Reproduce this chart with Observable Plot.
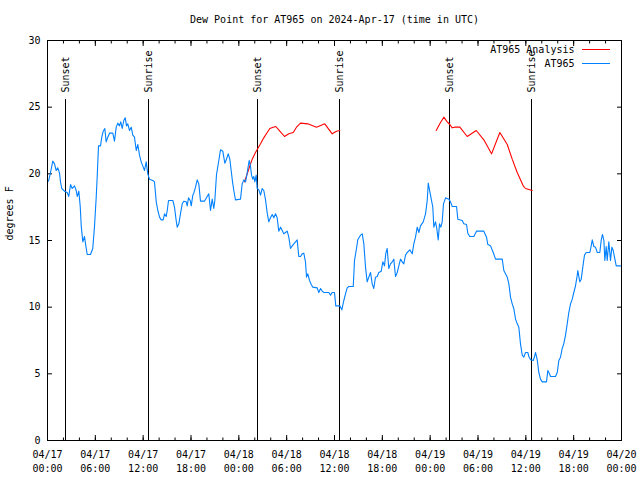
<!DOCTYPE html>
<html><head><meta charset="utf-8">
<script src="https://cdn.jsdelivr.net/npm/d3@7"></script>
<script src="https://cdn.jsdelivr.net/npm/@observablehq/plot@0.6"></script>
<style>body{margin:0;background:#fff} svg{display:block}</style>
</head><body><div id="chart"></div>
<script>
// Hours since 2024-04-17 00:00 UTC
const obsHours = [
0.13,0.38,0.66,0.88,1.09,1.29,1.51,1.63,1.79,2.13,
2.47,2.67,2.89,3.10,3.39,3.60,3.73,3.93,4.10,4.23,
4.43,4.64,4.77,4.98,5.39,5.68,5.90,6.11,6.23,6.40,
6.65,6.81,6.99,7.19,7.36,7.56,7.78,8.19,8.40,8.62,
8.82,9.03,9.19,9.37,9.57,9.75,9.91,10.07,10.29,10.50,
10.70,10.91,11.13,11.33,11.54,11.75,11.95,12.17,12.38,12.58,
12.79,13.21,13.42,13.64,13.84,14.05,14.26,14.51,14.68,14.89,
15.02,15.18,15.72,15.93,16.14,16.27,16.47,16.68,16.90,17.10,
17.40,17.52,17.69,17.90,18.03,18.23,18.35,18.57,18.78,18.98,
19.19,19.69,20.03,20.23,20.45,20.66,20.86,20.99,21.20,21.49,
21.70,21.99,22.24,22.45,22.67,22.87,23.04,23.21,23.37,23.58,
24.21,24.42,24.62,24.84,24.96,25.13,25.30,25.46,25.59,25.75,
25.88,26.00,26.18,26.30,26.51,26.72,26.93,27.13,27.35,27.56,
27.76,27.97,28.19,28.39,28.60,28.81,29.01,29.23,29.44,29.64,
29.85,30.07,30.27,30.48,30.70,30.90,31.11,31.32,31.52,31.74,
31.95,32.15,32.36,32.49,32.65,32.87,33.08,33.28,33.83,34.03,
34.25,34.46,34.66,35.29,35.50,35.71,36.00,36.16,36.67,36.92,
37.17,37.38,37.59,37.80,38.35,38.51,38.76,38.92,39.26,39.48,
39.68,39.89,40.10,40.30,40.52,40.73,40.93,41.14,41.36,41.56,
41.86,42.06,42.27,42.44,42.61,42.81,43.03,43.24,43.44,43.65,
43.87,44.07,44.28,44.49,44.69,44.91,45.12,45.45,45.75,45.95,
46.16,46.38,46.58,46.79,47.13,47.42,47.63,47.76,48.04,48.33,
48.46,48.67,48.83,49.01,49.17,49.34,49.51,49.67,49.93,50.34,
50.55,50.77,51.31,51.47,52.02,52.22,52.56,52.72,52.97,53.48,
53.81,54.73,55.07,55.23,55.57,55.91,56.20,57.04,57.24,57.45,
57.67,57.87,58.08,58.29,58.49,58.71,58.92,59.12,59.33,59.55,
59.75,59.96,60.25,60.38,60.59,60.93,61.09,61.22,61.43,61.63,
61.84,62.06,62.59,62.76,62.93,63.10,63.72,63.94,64.14,64.35,
64.56,64.76,64.98,65.19,65.39,65.61,65.82,66.02,66.23,66.45,
66.52,66.77,66.95,67.20,67.36,67.57,68.03,68.20,68.33,68.53,
68.74,68.96,69.28,69.46,69.62,69.79,69.91,70.08,70.21,70.41,
70.62,70.79,70.96,71.12,71.34,71.88
];
const obsDewF = [
19.45,20.1,20.95,20.75,20.25,20.45,20.05,19.4,18.9,18.7,
18.6,18.3,19.2,18.9,19.1,18.75,18.3,18.7,17.6,16.1,
14.9,15.3,14.75,13.95,13.95,14.4,16.1,18.25,19.75,22.1,
22.1,22.75,23.2,23.4,22.4,22.75,23.05,23.05,22.45,23.5,
23.8,23.6,23.9,23.4,24.0,24.2,23.6,23.75,23.25,23.5,
22.9,22.75,21.75,22.2,21.4,20.9,20.6,20.25,20.9,20.0,
19.6,19.5,19.4,17.9,17.25,16.75,16.55,16.55,17.0,16.8,
17.25,18.0,18.0,17.5,16.5,16.0,16.25,17.0,17.75,17.95,
17.9,17.6,18.2,18.0,17.6,18.4,18.55,19.0,19.55,19.25,
17.95,17.95,18.3,18.5,17.25,18.1,17.4,18.0,19.95,21.0,
21.8,21.7,20.8,21.1,21.5,21.1,20.25,19.4,18.75,18.05,
18.1,19.25,19.55,19.4,19.75,20.4,21.0,20.6,19.9,19.6,
19.8,19.4,19.9,18.9,18.8,18.4,18.9,18.75,18.05,17.05,
16.4,16.7,16.95,16.7,17.0,16.7,15.7,16.0,15.75,15.5,
15.6,15.7,15.25,14.4,14.6,14.75,14.9,15.05,13.8,13.8,
14.0,14.05,13.4,12.25,12.5,12.0,11.7,11.5,11.45,11.1,
11.4,11.2,11.1,11.1,10.9,11.1,11.1,10.1,10.1,9.8,
10.5,11.0,11.45,11.55,11.55,13.5,14.4,15.05,15.4,15.5,
14.75,13.0,11.9,12.25,12.6,11.75,11.4,12.25,12.3,12.6,
12.7,13.4,13.1,14.05,14.4,12.9,13.25,13.4,13.6,12.3,
12.6,13.1,13.6,13.4,13.25,13.9,14.1,14.3,14.0,14.75,
15.25,16.0,15.6,16.1,16.4,17.0,18.0,19.3,18.4,17.5,
16.0,16.4,15.9,15.05,16.25,16.0,16.4,17.75,18.2,18.1,
17.9,17.55,17.55,16.6,16.5,16.25,16.2,15.55,15.3,15.3,
15.7,15.7,15.25,14.7,14.6,14.1,13.6,13.6,12.75,12.5,
12.25,11.75,10.75,10.25,9.9,9.1,8.75,8.5,7.25,6.4,
6.25,6.6,6.6,6.3,6.05,6.0,6.3,6.6,6.05,5.1,
4.6,4.4,4.4,5.25,5.05,4.8,4.8,5.1,6.0,6.25,
6.9,7.25,7.9,8.75,9.6,10.25,10.6,11.1,11.6,12.4,
12.75,11.9,12.1,13.25,13.9,14.1,14.1,14.6,15.05,14.55,
14.5,14.1,14.1,15.05,15.45,15.0,13.5,14.55,13.5,14.9,
13.5,14.5,14.25,13.75,13.1,13.1
];
const anaHours = [
24.71,25.05,25.38,25.68,26.09,26.38,26.72,27.13,27.56,27.89,
28.31,28.64,29.14,29.73,30.27,30.82,31.23,31.74,32.65,33.74,
34.78,35.71,36.25,36.67, null,
48.76,49.21,49.71,50.14,50.47,50.77,51.05,51.72,52.65,53.78,
54.73,55.70,56.74,57.67,58.29,58.92,59.67,59.96,60.80
];
const anaDewF = [
19.4,20.0,20.6,21.1,21.6,21.9,22.25,22.7,23.1,23.4,
23.5,23.55,23.2,22.8,23.0,23.1,23.5,23.8,23.75,23.5,
23.75,23.0,23.2,23.25, null,
23.25,23.75,24.25,23.9,23.7,23.45,23.5,23.5,22.8,23.25,
22.55,21.5,23.1,22.2,21.1,20.1,19.1,18.9,18.75
];
const eventHours = [2.30, 12.71, 26.38, 36.67, 50.47, 60.75];
const eventLabels = ["Sunset","Sunrise","Sunset","Sunrise","Sunset","Sunrise"];
const xTickHours = [0,6,12,18,24,30,36,42,48,54,60,66,72];
const xTickLabels = ["04/17\n00:00","04/17\n06:00","04/17\n12:00","04/17\n18:00",
  "04/18\n00:00","04/18\n06:00","04/18\n12:00","04/18\n18:00",
  "04/19\n00:00","04/19\n06:00","04/19\n12:00","04/19\n18:00","04/20\n00:00"];
const yTicks = [0,5,10,15,20,25,30];
const title = "Dew Point for AT965 on 2024-Apr-17 (time in UTC)";
const yLabel = "degrees F";
const seriesNames = ["AT965 Analysis", "AT965"];
const seriesColors = ["#ff0000", "#0080ff"];

const T0 = Date.UTC(2024, 3, 17);
const toDate = h => h == null ? null : new Date(T0 + h * 3600e3);
const obs = obsHours.map((h, i) => ({t: toDate(h), v: obsDewF[i]}));
const ana = anaHours.map((h, i) => ({t: toDate(h), v: anaDewF[i]}));
const events = eventHours.map((h, i) => ({t: toDate(h), label: eventLabels[i]}));
const majorTicks = xTickHours.map(toDate);
const minorTicks = d3.utcHour.every(2).range(toDate(0), toDate(72.01));
const labelFor = d => xTickLabels[xTickHours.indexOf(Math.round((+d - T0) / 3600e3))];

const svg = Plot.plot({
  width: 640, height: 480,
  marginLeft: 47, marginRight: 19, marginTop: 40, marginBottom: 40,
  style: {fontFamily: "'DejaVu Sans Mono', monospace", fontSize: "10px", background: "#fff", color: "#000", overflow: "visible"},
  x: {type: "utc", domain: [toDate(0), toDate(72)]},
  y: {domain: [0, 30]},
  marks: [
    Plot.axisY({ticks: yTicks, tickSize: -5, tickPadding: 12, tickFormat: d => String(d), label: null}),
    Plot.axisY({anchor: "right", ticks: yTicks, tickSize: -5, tickFormat: () => "", label: null}),
    Plot.axisX({ticks: majorTicks, tickSize: -5, tickPadding: 12.5, tickFormat: labelFor, lineHeight: 1.4, label: null}),
    Plot.axisX({ticks: minorTicks, tickSize: -2.5, tickFormat: () => "", label: null}),
    Plot.axisX({anchor: "top", ticks: majorTicks, tickSize: -5, tickFormat: () => "", label: null}),
    Plot.axisX({anchor: "top", ticks: minorTicks, tickSize: -2.5, tickFormat: () => "", label: null}),
    Plot.ruleX(events, {x: "t", stroke: "black", insetTop: 59, shapeRendering: "crispEdges"}),
    Plot.text(events, {x: "t", text: "label", frameAnchor: "top", dy: 52, rotate: -90, textAnchor: "start", lineAnchor: "middle"}),
    Plot.line(ana, {x: "t", y: "v", stroke: seriesColors[0], strokeWidth: 1.1}),
    Plot.line(obs, {x: "t", y: "v", stroke: seriesColors[1], strokeWidth: 1.1}),
    Plot.frame({stroke: "black", shapeRendering: "crispEdges"}),
    Plot.text([title], {frameAnchor: "top", dy: -21, text: d => d, lineAnchor: "middle"}),
    Plot.text([yLabel], {frameAnchor: "left", dx: -38, rotate: -90, text: d => d, lineAnchor: "middle"}),
    Plot.text([seriesNames[0]], {frameAnchor: "top-right", dx: -47, dy: 9, text: d => d, textAnchor: "end", lineAnchor: "middle"}),
    Plot.text([seriesNames[1]], {frameAnchor: "top-right", dx: -47, dy: 23, text: d => d, textAnchor: "end", lineAnchor: "middle"})
  ]
});
const s = d3.select(svg);
[0, 1].forEach(i => {
  s.append("line").attr("x1", 582).attr("x2", 610).attr("y1", 49.5 + 14 * i).attr("y2", 49.5 + 14 * i)
   .attr("stroke", seriesColors[i]).attr("stroke-width", 1);
});
document.getElementById("chart").appendChild(svg);
</script>
</body></html>
